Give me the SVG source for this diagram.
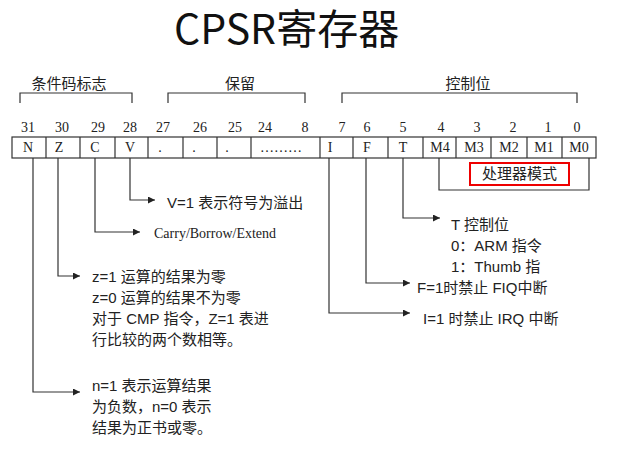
<svg xmlns="http://www.w3.org/2000/svg" width="641" height="450" viewBox="0 0 641 450">
<style>
.title{font-family:"Noto Sans CJK SC","DejaVu Sans",sans-serif;font-size:41px;fill:#111}
.lbl{font-family:"Liberation Sans","Noto Sans CJK SC",sans-serif;font-size:15px;fill:#222}
.ser{font-family:"Liberation Serif","Noto Sans CJK SC",serif;font-size:14px;fill:#222}
.num{font-family:"Liberation Serif",serif;font-size:14px;fill:#222;text-anchor:middle}
.ln{fill:none;stroke:#333;stroke-width:1.2}
.cell{fill:#fff;stroke:#333;stroke-width:1.2}
</style>
<defs>
<marker id="ar" viewBox="0 0 10 10" refX="10" refY="5" markerWidth="8" markerHeight="7" markerUnits="userSpaceOnUse" orient="auto">
<path d="M0,0 L10,5 L0,10 Z" fill="#222"/>
</marker>
</defs>
<rect width="641" height="450" fill="#fff"/>
<g id="title">
<text class="title" x="174" y="44">CPSR寄存器</text>
</g>

<g id="brackets">
<path class="ln" d="M20,103 V93 H132 V103"/>
<path class="ln" d="M168,103 V93 H305 V103"/>
<path class="ln" d="M342,103 V93 H577 V103"/>
<text class="lbl" x="69" y="89" text-anchor="middle">条件码标志</text>
<text class="lbl" x="240" y="89" text-anchor="middle">保留</text>
<text class="lbl" x="468" y="89" text-anchor="middle">控制位</text>
</g>

<g id="bitnums">
<text class="num" x="28" y="132">31</text>
<text class="num" x="62" y="132">30</text>
<text class="num" x="98" y="132">29</text>
<text class="num" x="130" y="132">28</text>
<text class="num" x="163" y="132">27</text>
<text class="num" x="200" y="132">26</text>
<text class="num" x="235" y="132">25</text>
<text class="num" x="265" y="132">24</text>
<text class="num" x="305" y="132">8</text>
<text class="num" x="342" y="132">7</text>
<text class="num" x="367" y="132">6</text>
<text class="num" x="403" y="132">5</text>
<text class="num" x="441" y="132">4</text>
<text class="num" x="477" y="132">3</text>
<text class="num" x="513" y="132">2</text>
<text class="num" x="548" y="132">1</text>
<text class="num" x="577" y="132">0</text>
</g>

<g id="register">
<rect class="cell" x="12" y="137" width="584" height="21"/>
<path class="ln" d="M46,137V158M80,137V158M115,137V158M148,137V158M183,137V158M217,137V158M251,137V158M320,137V158M353,137V158M388,137V158M423,137V158M456,137V158M491,137V158M527,137V158M562,137V158"/>
<text class="num" x="28" y="152">N</text>
<text class="num" x="59" y="152">Z</text>
<text class="num" x="95" y="152">C</text>
<text class="num" x="130" y="152">V</text>
<text class="num" x="160" y="152">.</text>
<text class="num" x="194" y="152">.</text>
<text class="num" x="227" y="152">.</text>
<text class="num" x="281" y="152">………</text>
<text class="num" x="330" y="152">I</text>
<text class="num" x="367" y="152">F</text>
<text class="num" x="403" y="152">T</text>
<text class="num" x="440" y="152">M4</text>
<text class="num" x="474" y="152">M3</text>
<text class="num" x="509" y="152">M2</text>
<text class="num" x="544" y="152">M1</text>
<text class="num" x="579" y="152">M0</text>
</g>

<g id="connectors">
<path class="ln" d="M33,158 V392 H80" marker-end="url(#ar)"/>
<path class="ln" d="M58,158 V276 H80" marker-end="url(#ar)"/>
<path class="ln" d="M95,158 V232 H140" marker-end="url(#ar)"/>
<path class="ln" d="M130,158 V200 H155" marker-end="url(#ar)"/>
<path class="ln" d="M329,158 V313 H410" marker-end="url(#ar)"/>
<path class="ln" d="M366,158 V283 H410" marker-end="url(#ar)"/>
<path class="ln" d="M403,158 V218 H440" marker-end="url(#ar)"/>
<path class="ln" d="M439,158 V190 H589 V158"/>
</g>

<g id="mode">
<rect x="470" y="163" width="99" height="22" fill="none" stroke="#e00" stroke-width="2"/>
<text class="lbl" x="519.5" y="179" text-anchor="middle">处理器模式</text>
</g>

<g id="note-v">
<text class="lbl" x="167" y="208">V=1 表示符号为溢出</text>
</g>
<g id="note-c">
<text class="ser" x="154" y="238">Carry/Borrow/Extend</text>
</g>
<g id="note-z">
<text class="lbl" x="92" y="282">z=1 运算的结果为零</text>
<text class="lbl" x="92" y="303">z=0 运算的结果不为零</text>
<text class="lbl" x="92" y="324">对于 CMP 指令，Z=1 表进</text>
<text class="lbl" x="92" y="345">行比较的两个数相等。</text>
</g>
<g id="note-n">
<text class="lbl" x="92" y="391">n=1 表示运算结果</text>
<text class="lbl" x="92" y="412">为负数，n=0 表示</text>
<text class="lbl" x="92" y="433">结果为正书或零。</text>
</g>
<g id="note-t">
<text class="lbl" x="451" y="230">T 控制位</text>
<text class="lbl" x="451" y="251">0：ARM 指令</text>
<text class="lbl" x="451" y="272">1：Thumb 指</text>
</g>
<g id="note-f">
<text class="lbl" x="417" y="293">F=1时禁止 FIQ中断</text>
</g>
<g id="note-i">
<text class="lbl" x="423" y="324">I=1 时禁止 IRQ 中断</text>
</g>
</svg>
